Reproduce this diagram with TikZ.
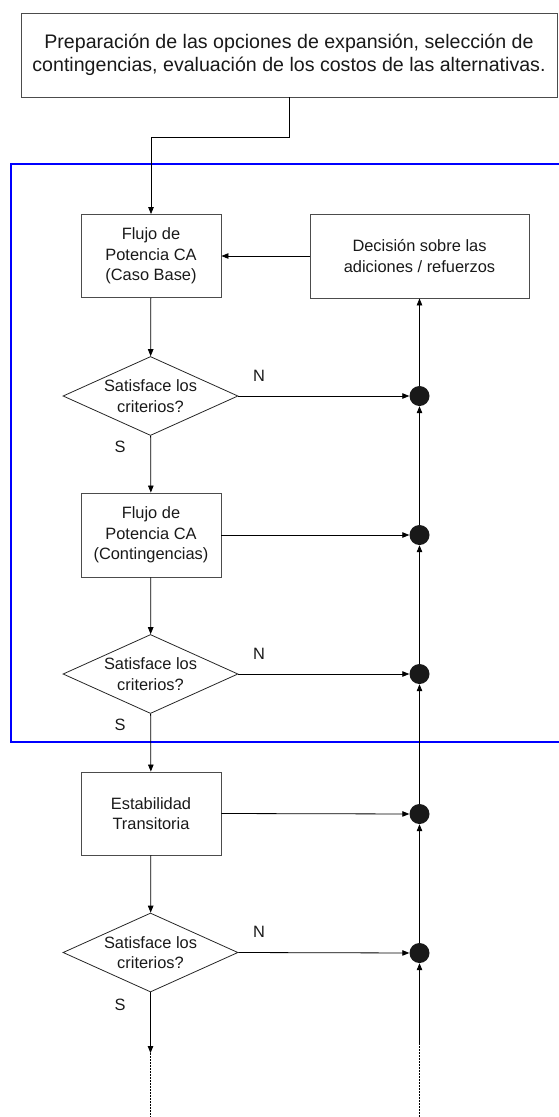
\documentclass[tikz,border=0pt]{standalone}
\usepackage{fontspec}
\setmainfont{Liberation Sans}
\usetikzlibrary{shapes.geometric,arrows.meta}

\begin{document}
\begin{tikzpicture}[x=1pt,y=-1pt,
  every node/.style={inner sep=0pt},
  smalltext/.style={font=\fontsize{16.4}{20.5}\selectfont, text=black!90},
  stepbox/.style={draw=black!70, line width=0.9pt, rectangle, align=center,
    smalltext, minimum width=140pt, minimum height=83pt},
  decision/.style={draw=black!85, line width=0.8pt, diamond,
    minimum width=175pt, minimum height=79pt},
  junction/.style={circle, fill=black!90, minimum size=20pt},
  arr/.style={draw=black, line width=0.8pt, -{Triangle[length=7pt,width=5.5pt]}},
  link/.style={draw=black, line width=0.8pt},
  tail/.style={draw=black, line width=0.8pt, dash pattern=on 2pt off 1pt},
  lbl/.style={smalltext}
]
\useasboundingbox (0,0) rectangle (559,1117);

% study region
\draw[blue, line width=1.3pt] (559,164) -- (11,164) -- (11,742) -- (559,742);

% first step
\node[draw=black!70, line width=0.9pt, align=center,
      font=\fontsize{19.6}{23}\selectfont, text=black!90,
      minimum width=536pt, minimum height=84pt] (top) at (289,55)
  {Preparación de las opciones de expansión, selección de\\
   contingencias, evaluación de los costos de las alternativas.};

% main column
\node[stepbox] (f1) at (151,256) {Flujo de\\Potencia CA\\(Caso Base)};
\node[decision] (d1) at (150.5,396) {};
\node[smalltext, align=center] at (d1) {Satisface los\\criterios?};

\node[stepbox, minimum height=84pt] (f2) at (151,535) {Flujo de\\Potencia CA\\(Contingencias)};
\node[decision] (d2) at (150.5,674) {};
\node[smalltext, align=center] at (d2) {Satisface los\\criterios?};

\node[stepbox] (f3) at (151,813.5) {Estabilidad\\Transitoria};
\node[decision] (d3) at (150.5,952.5) {};
\node[smalltext, align=center] at (d3) {Satisface los\\criterios?};

% decision on reinforcements
\node[stepbox, minimum width=219pt, minimum height=84pt] (dec) at (419.5,256)
  {Decisión sobre las\\adiciones / refuerzos};

% junctions on the return line
\node[junction] (p1) at (419.5,396) {};
\node[junction] (p2) at (419.5,535) {};
\node[junction] (p3) at (419.5,674) {};
\node[junction] (p4) at (419.5,814) {};
\node[junction] (p5) at (419.5,953) {};

% loose ends at the bottom
\coordinate (bend) at (151,137);
\coordinate (lout) at (150.5,1053);
\coordinate (lend) at (150.5,1117);
\coordinate (rin)  at (419.5,1043);
\coordinate (rend) at (419.5,1117);

% flow down the column
\draw[link] (top.south) |- (bend);
\draw[arr] (bend) -- (f1.north);
\draw[arr] (f1) -- (d1);
\draw[arr] (d1) -- (f2);
\draw[arr] (f2) -- (d2);
\draw[arr] (d2) -- (f3);
\draw[arr] (f3) -- (d3);
\draw[arr] (d3.south) -- (lout);
\draw[tail] (lout) -- (lend);

% branches to the return line
\draw[arr] (d1.east) -- (p1);
\draw[arr] (f2.east) -- (p2);
\draw[arr] (d2.east) -- (p3);
\draw[arr] (f3.east) -- (p4);
\draw[arr] (d3.east) -- (p5);

% return line
\draw[tail] (rend) -- (rin);
\draw[arr] (rin) -- (p5);
\draw[arr] (p5) -- (p4);
\draw[arr] (p4) -- (p3);
\draw[arr] (p3) -- (p2);
\draw[arr] (p2) -- (p1);
\draw[arr] (p1) -- (dec.south);
\draw[arr] (dec.west) -- (f1.east);

% branch labels
\node[lbl] at (259,376) {N};
\node[lbl] at (259,654) {N};
\node[lbl] at (259,932) {N};
\node[lbl] at (120,447) {S};
\node[lbl] at (120,725) {S};
\node[lbl] at (120,1005) {S};
\end{tikzpicture}
\end{document}
